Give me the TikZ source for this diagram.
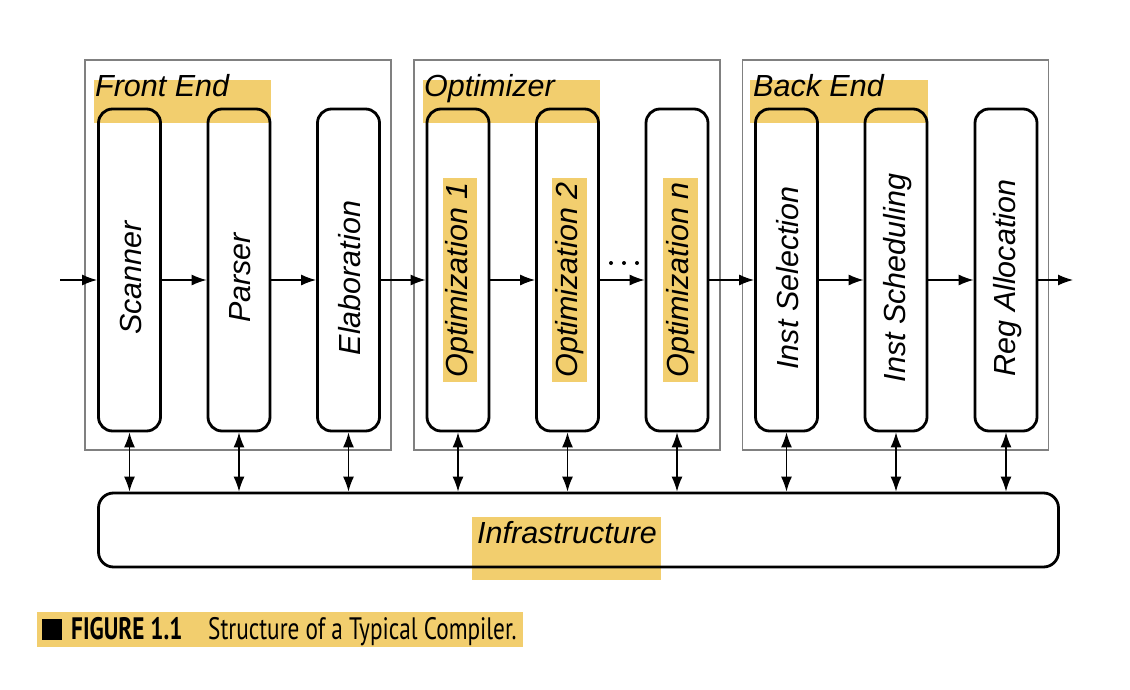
\documentclass[tikz,border=0pt]{standalone}
\usepackage{fontspec}
\setmainfont{Liberation Sans}
\newfontfamily\capfont[FakeStretch=0.75]{PT Sans}
\usetikzlibrary{arrows.meta}
\definecolor{hl}{HTML}{F2CE6E}
\definecolor{grp}{HTML}{808080}
\tikzset{
  group/.style={draw=grp, line width=1.6pt, minimum width=306pt, minimum height=390pt, inner sep=0pt},
  stagebox/.style={draw, line width=2.8pt, rounded corners=14pt, minimum width=62pt, minimum height=322pt, inner sep=0pt},
  lbl/.style={font=\fontsize{30.5}{32}\selectfont\itshape, inner sep=0pt},
  vlbl/.style={lbl, rotate=90},
  hvlbl/.style={vlbl, fill=hl, inner xsep=5pt, inner ysep=3pt},
  hlrect/.style={fill=hl, inner sep=0pt, anchor=north west},
  flow/.style={-{Latex[length=15pt,width=11pt]}, line width=1.3pt},
  dflow/.style={{Latex[length=15pt,width=11pt]}-{Latex[length=15pt,width=11pt]}, line width=1.3pt},
  dot/.style={circle, fill, inner sep=0pt, minimum size=4pt}
}
\begin{document}
\begin{tikzpicture}[x=1pt,y=-1pt]
\useasboundingbox (0,0) rectangle (1130,690);
% groups
\node[group] (fe) at (238,255) {};
\node[group] (op) at (567,255) {};
\node[group] (be) at (895.5,255) {};
% group label highlights
\node[hlrect, minimum width=177pt, minimum height=43pt] (feh) at (94,80) {};
\node[hlrect, minimum width=177pt, minimum height=43pt] (oph) at (423,80) {};
\node[hlrect, minimum width=178pt, minimum height=43pt] (beh) at (750,80) {};
\node[lbl, anchor=base west] (fet) at (95,97) {Front End};
\node[lbl, anchor=base west] (opt) at (424,97) {Optimizer};
\node[lbl, anchor=base west] (bet) at (753,97) {Back End};
% stages
\node[stagebox] (s1) at (129.5,270) {};
\node[stagebox] (s2) at (239,270) {};
\node[stagebox] (s3) at (348.5,270) {};
\node[stagebox] (s4) at (458,270) {};
\node[stagebox] (s5) at (567.5,270) {};
\node[stagebox] (s6) at (677,270) {};
\node[stagebox] (s7) at (786.5,270) {};
\node[stagebox] (s8) at (896,270) {};
\node[stagebox] (s9) at (1006,270) {};
\node[vlbl] (t1) at (131,278) {Scanner};
\node[vlbl] (t2) at (240,278) {Parser};
\node[vlbl] (t3) at (350,278) {Elaboration};
\node[hvlbl] (t4) at (460,280) {Optimization 1};
\node[hvlbl] (t5) at (569.5,280) {Optimization 2};
\node[hvlbl] (t6) at (680.5,280) {Optimization n};
\node[vlbl] (t7) at (788,278) {Inst Selection};
\node[vlbl] (t8) at (898,278) {Inst Scheduling};
\node[vlbl] (t9) at (1008,278) {Reg Allocation};
% infrastructure
\node[hlrect, minimum width=189pt, minimum height=63pt] (infh) at (472,517) {};
\node[stagebox, rounded corners=15pt, minimum width=960pt, minimum height=74pt] (infra) at (578.5,530) {};
\node[lbl, anchor=base west] (inft) at (477,543) {Infrastructure};
% flow
\coordinate (in) at (60,280);
\coordinate (out) at (1073,280);
\draw[flow] (in) -- ([yshift=-10pt]s1.west);
\draw[flow] ([yshift=-10pt]s1.east) -- ([yshift=-10pt]s2.west);
\draw[flow] ([yshift=-10pt]s2.east) -- ([yshift=-10pt]s3.west);
\draw[flow] ([yshift=-10pt]s3.east) -- ([yshift=-10pt]s4.west);
\draw[flow] ([yshift=-10pt]s4.east) -- ([yshift=-10pt]s5.west);
\draw[flow] ([yshift=-10pt]s5.east) -- ([yshift=-10pt]s6.west);
\draw[flow] ([yshift=-10pt]s6.east) -- ([yshift=-10pt]s7.west);
\draw[flow] ([yshift=-10pt]s7.east) -- ([yshift=-10pt]s8.west);
\draw[flow] ([yshift=-10pt]s8.east) -- ([yshift=-10pt]s9.west);
\draw[flow] ([yshift=-10pt]s9.east) -- (out);
\node[dot] (d1) at (611,263) {};
\node[dot] (d2) at (624,263) {};
\node[dot] (d3) at (637,263) {};
\foreach \s in {s1,s2,s3,s4,s5,s6,s7,s8,s9}
  \draw[dflow] (\s.south) -- (\s.south |- infra.north);
% caption
\node[hlrect, minimum width=486pt, minimum height=35pt] (caph) at (37,612) {};
\node[fill=black, inner sep=0pt, minimum width=20pt, minimum height=21pt, anchor=north west] (sq) at (42,619) {};
\node[inner sep=0pt, anchor=base west, font=\capfont\fontsize{31}{32}\selectfont\bfseries] (capa) at (71,639) {FIGURE 1.1};
\node[inner sep=0pt, anchor=base west, font=\capfont\fontsize{31}{32}\selectfont] (capb) at (208,639) {Structure of a Typical Compiler.};
\end{tikzpicture}
\end{document}
